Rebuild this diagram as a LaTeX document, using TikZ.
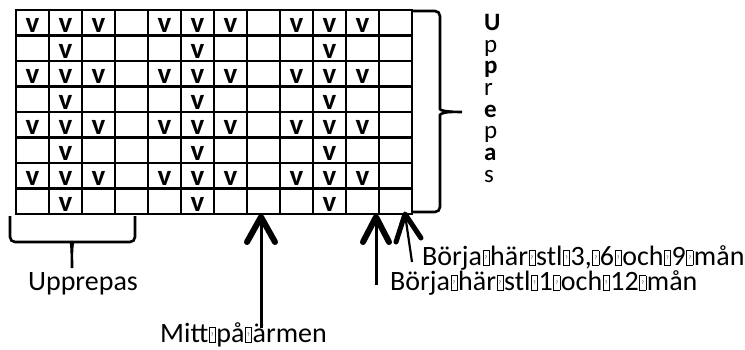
\documentclass[tikz,border=0pt]{standalone}
\usepackage{fontspec}
\setmainfont{Carlito}
\newcommand\gb{{\setlength\fboxsep{0pt}\setlength\fboxrule{0.7pt}\kern0.6pt\fbox{\parbox[b][14pt][c]{5.5pt}{\centering\fontsize{5}{5}\selectfont ?}}\kern0.6pt}}
\begin{document}
\begin{tikzpicture}[x=1pt,y=-1pt,
  gridline/.style={line width=2.8pt, line cap=rect},
  cellv/.style={font=\fontsize{29}{29}\selectfont\bfseries, inner sep=0pt, anchor=base},
  lbl/.style={font=\fontsize{28}{30}\selectfont, inner sep=0pt, anchor=base west},
  vlbl/.style={font=\fontsize{25}{25}\selectfont, inner sep=0pt, anchor=north west},
  brace/.style={line width=2.6pt, rounded corners=5pt},
  shaft/.style={line width=3pt},
  head/.style={line width=6pt, line cap=round, line join=round}
]
\useasboundingbox (0,0) rectangle (745,349);
% grid
\foreach \i in {0,...,12} \draw[gridline] (16+33*\i,10) -- (16+33*\i,214);
\foreach \j in {0,...,8} \draw[gridline] (16,10+25.5*\j) -- (412,10+25.5*\j);
% marks
\foreach \r in {0,2,4,6} {
  \foreach \c in {1,2,3,5,6,7,9,10,11}
    \node[cellv] (v-\r-\c) at (33*\c-0.5, 10+25.5*\r+22.5) {v};
  \node[cellv] (v-\r-b) at (33*2-0.5, 10+25.5*\r+25.5+22.5) {v};
  \node[cellv] (v-\r-f) at (33*6-0.5, 10+25.5*\r+25.5+22.5) {v};
  \node[cellv] (v-\r-j) at (33*10-0.5, 10+25.5*\r+25.5+22.5) {v};
}
% right brace
\draw[brace] (412,11) -- (440,11) -- (440,104) .. controls (440,110) and (444,112) .. (462,112);
\draw[brace] (412,212) -- (440,212) -- (440,120) .. controls (440,114) and (444,112) .. (452,112);
% vertical label
\node[vlbl] (upv) at (484,14) {\vbox{\baselineskip=21.7pt\lineskiplimit=-10pt
  \hbox{\bfseries U}\hbox{p}\hbox{\bfseries p}\hbox{r}\hbox{\bfseries e}\hbox{p}\hbox{\bfseries a}\hbox{s}}};
% bottom brace
\draw[brace] (10,216) -- (10,242) -- (66,242) .. controls (71,242) and (72,246) .. (72,268);
\draw[brace] (135,216) -- (135,242) -- (78,242) .. controls (73,242) and (72,246) .. (72,252);
\node[lbl, anchor=base] (upp) at (83,290) {Upprepas};
% arrows
\coordinate (tA) at (261,217); \coordinate (sA) at (261,328);
\coordinate (tB) at (376,217); \coordinate (sB) at (376,285);
\coordinate (tC) at (405,214); \coordinate (sC) at (412,262);
\draw[shaft] (sA) -- (tA);
\draw[head] ([shift={(-14,25)}]tA) -- (tA) -- ([shift={(14,25)}]tA);
\draw[shaft] (sB) -- (tB);
\draw[head] ([shift={(-13,25)}]tB) -- (tB) -- ([shift={(13,25)}]tB);
\draw[shaft, line width=2.2pt] (sC) -- (tC);
\draw[head, line width=5pt] ([shift={(-9,28)}]tC) -- (tC) -- ([shift={(16,24)}]tC);
\node[lbl] (mitt) at (160,342) {Mitt\gb på\gb ärmen};
\node[lbl] (b369) at (422,265) {Börja\gb här\gb stl\gb 3,\gb 6\gb och\gb 9\gb mån};
\node[lbl] (b112) at (390,290) {Börja\gb här\gb stl\gb 1\gb och\gb 12\gb mån};
\end{tikzpicture}
\end{document}
